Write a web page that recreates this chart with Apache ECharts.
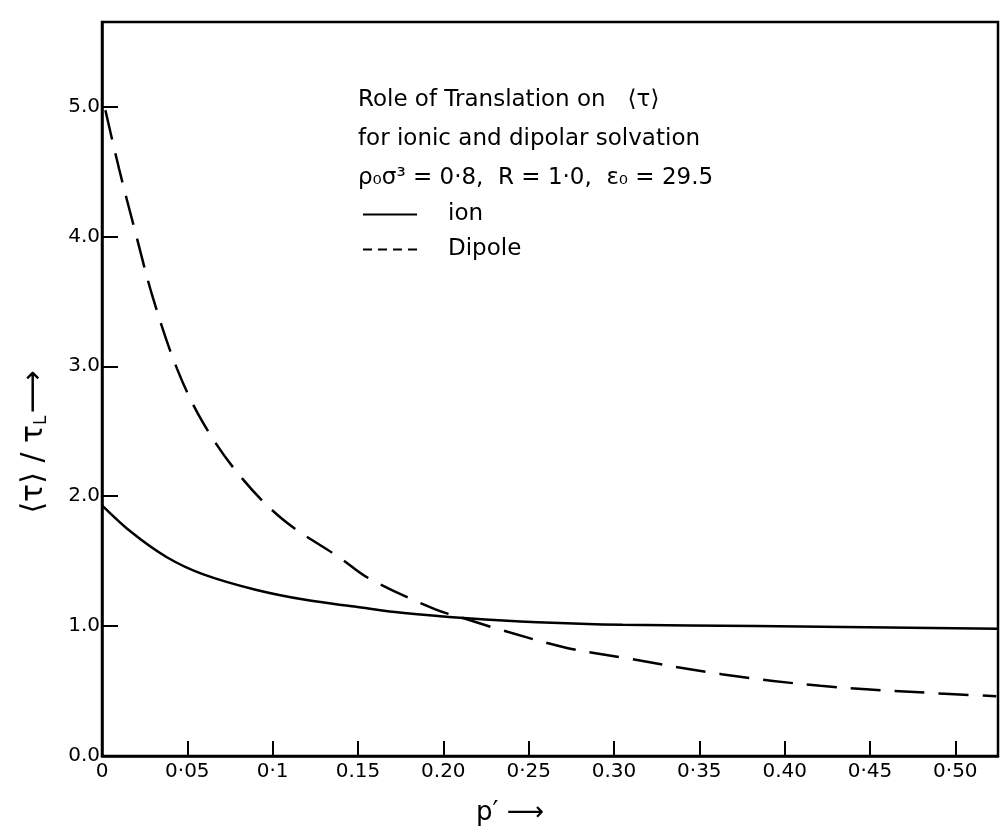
<!DOCTYPE html>
<html>
<head>
<meta charset="utf-8">
<script src="https://cdn.jsdelivr.net/npm/echarts@6/dist/echarts.min.js"></script>
<style>
  html, body { margin: 0; padding: 0; background: #fff; }
  #container { width: 1006px; height: 831px; }
</style>
</head>
<body>
<div id="container"></div>
<script>
// p' values and <tau>/tau_L
var ionP = [0, 0.0175, 0.038, 0.059, 0.09, 0.12, 0.148, 0.177, 0.214, 0.255, 0.305, 0.383, 0.461, 0.525];
var ionV = [1.93, 1.72, 1.53, 1.40, 1.28, 1.20, 1.15, 1.10, 1.06, 1.03, 1.01, 1.00, 0.99, 0.98];
var dipP = [0.002, 0.010, 0.019, 0.030, 0.044, 0.059, 0.080, 0.106, 0.140, 0.156, 0.195, 0.212, 0.234, 0.273, 0.304, 0.363, 0.421, 0.479, 0.524];
var dipV = [4.97, 4.52, 4.06, 3.52, 2.98, 2.57, 2.17, 1.82, 1.52, 1.37, 1.13, 1.06, 0.97, 0.83, 0.76, 0.63, 0.54, 0.49, 0.46];

// tick labels as printed
var xTicks = [0, 0.05, 0.1, 0.15, 0.2, 0.25, 0.3, 0.35, 0.4, 0.45, 0.5];
var xLabels = ['0', '0·05', '0·1', '0.15', '0.20', '0·25', '0.30', '0·35', '0.40', '0·45', '0·50'];
var yTicks = [0, 1, 2, 3, 4, 5];
var yLabels = ['0.0', '1.0', '2.0', '3.0', '4.0', '5.0'];

var FONT = 'DejaVu Sans';

function pairs(xs, ys) {
	return xs.map(function(x, i) {
		return [x, ys[i]];
	});
}

function pickLabel(ticks, labels) {
	return function(v) {
		for (var i = 0; i < ticks.length; i++) {
			if (Math.abs(v - ticks[i]) < 1e-6) return labels[i];
		}
		return '';
	};
}

var dom = document.getElementById('container');
var myChart = echarts.init(dom, null, { renderer: 'canvas' });

var option = {
	animation: false,
	backgroundColor: '#fff',
	textStyle: { fontFamily: FONT, color: '#000' },
	title: {
		left: 353,
		top: 76,
		text: 'Role of Translation on   ⟨τ⟩\nfor ionic and dipolar solvation\nρ₀σ³ = 0·8,  R = 1·0,  ε₀ = 29.5',
		textStyle: {
			fontFamily: FONT,
			fontWeight: 'normal',
			fontSize: 23,
			lineHeight: 39,
			color: '#000'
		}
	},
	legend: {
		orient: 'vertical',
		left: 357,
		top: 198,
		itemWidth: 54,
		itemHeight: 14,
		itemGap: 12,
		itemStyle: { opacity: 0 },
		textStyle: { fontFamily: FONT, fontSize: 23, color: '#000', padding: [0, 0, 0, 26] },
		data: [
			{ name: 'ion', lineStyle: { color: '#000', width: 2, type: 'solid' } },
			{ name: 'Dipole', lineStyle: { color: '#000', width: 2, type: [9, 6] } }
		]
	},
	grid: {
		left: 102,
		right: 8,
		top: 22,
		bottom: 68,
		show: true,
		borderColor: '#000',
		borderWidth: 2.5
	},
	xAxis: {
		type: 'value',
		min: 0,
		max: 0.525,
		interval: 0.05,
		name: 'p′ ⟶',
		nameLocation: 'middle',
		nameGap: 44,
		nameTextStyle: { fontFamily: FONT, fontSize: 26, color: '#000', padding: [0, 80, 0, 0] },
		axisLine: { show: true, lineStyle: { color: '#000', width: 2.5 } },
		axisTick: { inside: true, length: 15, lineStyle: { color: '#000', width: 2 } },
		splitLine: { show: false },
		axisLabel: {
			fontFamily: FONT,
			fontSize: 20,
			color: '#000',
			margin: 6,
			formatter: pickLabel(xTicks, xLabels)
		}
	},
	yAxis: {
		type: 'value',
		min: 0,
		max: 5.65,
		interval: 1,
		name: '{a|⟨τ⟩ / τ}{s|L}{a|⟶}',
		nameLocation: 'middle',
		nameRotate: 90,
		nameGap: 52,
		nameTextStyle: {
			padding: [0, 106, 0, 0],
			rich: {
				a: { fontFamily: FONT, fontSize: 30, color: '#000' },
				s: { fontFamily: FONT, fontSize: 17, color: '#000', padding: [14, 2, 0, 0] }
			}
		},
		axisLine: { show: true, lineStyle: { color: '#000', width: 2.5 } },
		axisTick: { inside: true, length: 16, lineStyle: { color: '#000', width: 2 } },
		splitLine: { show: false },
		axisLabel: {
			fontFamily: FONT,
			fontSize: 20,
			color: '#000',
			margin: 2,
			formatter: pickLabel(yTicks, yLabels)
		}
	},
	series: [{
			name: 'ion',
			type: 'line',
			data: pairs(ionP, ionV),
			smooth: 0.35,
			symbol: 'none',
			lineStyle: { color: '#000', width: 2.5, type: 'solid' },
			itemStyle: { color: '#000' }
		},
		{
			name: 'Dipole',
			type: 'line',
			data: pairs(dipP, dipV),
			smooth: 0.35,
			symbol: 'none',
			lineStyle: { color: '#000', width: 2.5, type: [30, 14] },
			itemStyle: { color: '#000' }
		}
	]
};

myChart.setOption(option);
</script>
</body>
</html>
